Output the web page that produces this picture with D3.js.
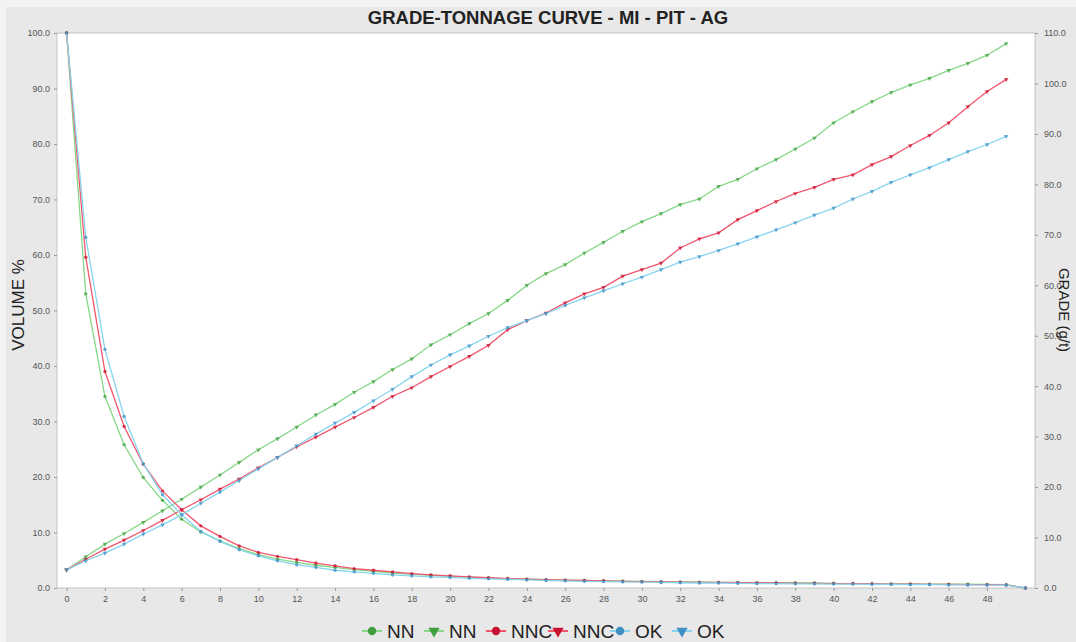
<!DOCTYPE html>
<html>
<head>
<meta charset="utf-8">
<script src="https://cdn.jsdelivr.net/npm/d3@7"></script>
<style>
    body { margin: 0; background: #f3f3f3; }
    svg { display: block; font-family: "Liberation Sans", Arial, sans-serif; }
</style>
</head>
<body>
<div id="chart"></div>
<script>
// ___________________________Data_______________________________
const cutoffs = d3.range(0, 51);
const volumeTicks = d3.range(0, 101, 10);
const gradeTicks = d3.range(0, 111, 10);
const xTicks = d3.range(0, 49, 2);

const volumeNN = [100, 53, 34.5, 25.8, 19.9, 15.8, 12.4, 10.1, 8.5, 7.1, 6.0, 5.2, 4.6, 4.1, 3.7, 3.3, 3.0, 2.7, 2.5, 2.3,
    2.1, 1.95, 1.8, 1.7, 1.6, 1.5, 1.4, 1.35, 1.3, 1.25, 1.2, 1.15, 1.1, 1.05, 1.0, 1.0, 0.95, 0.95, 0.9, 0.9,
    0.85, 0.8, 0.8, 0.75, 0.75, 0.7, 0.7, 0.7, 0.65, 0.6, 0.0];
const volumeNNC = [100, 59.6, 39, 29.1, 22.3, 17.5, 14.1, 11.2, 9.3, 7.6, 6.4, 5.7, 5.1, 4.5, 4.0, 3.5, 3.2, 2.9, 2.6, 2.35,
    2.2, 2.0, 1.85, 1.7, 1.6, 1.5, 1.4, 1.35, 1.3, 1.2, 1.15, 1.1, 1.05, 1.0, 1.0, 0.95, 0.9, 0.9, 0.85, 0.85,
    0.8, 0.8, 0.75, 0.7, 0.7, 0.65, 0.65, 0.6, 0.6, 0.55, 0.0];
const volumeOK = [100, 63.2, 43, 30.9, 22.4, 16.8, 13.2, 10.2, 8.4, 6.9, 5.8, 4.9, 4.2, 3.7, 3.2, 2.9, 2.65, 2.35, 2.2, 2.0,
    1.9, 1.75, 1.65, 1.55, 1.45, 1.35, 1.3, 1.2, 1.15, 1.1, 1.05, 1.0, 0.95, 0.9, 0.9, 0.85, 0.8, 0.8, 0.75, 0.75,
    0.7, 0.7, 0.65, 0.65, 0.6, 0.6, 0.55, 0.55, 0.5, 0.5, 0.0];

const gradeNN = [3.6, 6.2, 8.7, 10.8, 13.0, 15.3, 17.6, 20.0, 22.4, 24.9, 27.4, 29.6, 31.9, 34.3, 36.4, 38.8, 40.9, 43.3, 45.4, 48.2,
    50.2, 52.4, 54.4, 57.0, 60.0, 62.3, 64.1, 66.4, 68.5, 70.7, 72.6, 74.2, 76.0, 77.1, 79.6, 81.0, 83.1, 84.9, 87.0, 89.2,
    92.2, 94.4, 96.4, 98.2, 99.7, 101.0, 102.6, 104.0, 105.6, 107.9];
const gradeNNC = [3.6, 5.7, 7.7, 9.5, 11.4, 13.4, 15.5, 17.5, 19.6, 21.6, 23.8, 25.9, 28.0, 29.9, 31.9, 33.8, 35.8, 38.0, 39.7, 41.9,
    43.9, 45.9, 48.1, 51.2, 53.0, 54.5, 56.5, 58.3, 59.6, 61.8, 63.1, 64.4, 67.4, 69.2, 70.4, 73.0, 74.8, 76.6, 78.2, 79.4,
    81.0, 81.9, 83.9, 85.5, 87.7, 89.7, 92.2, 95.4, 98.4, 100.8];
const gradeOK = [3.6, 5.4, 6.9, 8.7, 10.7, 12.5, 14.5, 16.8, 19.0, 21.3, 23.6, 25.9, 28.2, 30.5, 32.7, 34.8, 37.1, 39.4, 41.9, 44.2,
    46.2, 48.0, 49.9, 51.6, 53.0, 54.4, 56.0, 57.5, 58.9, 60.3, 61.6, 63.1, 64.6, 65.7, 66.9, 68.2, 69.6, 71.0, 72.4, 73.9,
    75.3, 77.1, 78.6, 80.4, 81.9, 83.3, 84.9, 86.5, 87.9, 89.5];

const seriesNames = ["NN", "NN", "NNC", "NNC", "OK", "OK"];

// ___________________________Chart_______________________________
const width = 1076;
const height = 642;
const margin = { top: 33, right: 41, bottom: 54, left: 57 };

const series = [
    { name: seriesNames[0], values: volumeNN, axis: "left", symbol: d3.symbolCircle, line: "#86d886", dot: "#3f9f3f" },
    { name: seriesNames[1], values: gradeNN, axis: "right", symbol: d3.symbolTriangle, line: "#86d886", dot: "#3f9f3f" },
    { name: seriesNames[2], values: volumeNNC, axis: "left", symbol: d3.symbolCircle, line: "#f2566e", dot: "#c8102e" },
    { name: seriesNames[3], values: gradeNNC, axis: "right", symbol: d3.symbolTriangle, line: "#f2566e", dot: "#c8102e" },
    { name: seriesNames[4], values: volumeOK, axis: "left", symbol: d3.symbolCircle, line: "#86d4f0", dot: "#3d8fc4" },
    { name: seriesNames[5], values: gradeOK, axis: "right", symbol: d3.symbolTriangle, line: "#86d4f0", dot: "#3d8fc4" }
];

const svg = d3.select("#chart")
    .append("svg")
    .attr("width", width)
    .attr("height", height);

// outer panel
svg.append("rect")
    .attr("x", 6).attr("y", 7)
    .attr("width", width - 6).attr("height", height - 7)
    .attr("fill", "#e8e8e8");

const xScale = d3.scaleLinear()
    .domain([-0.5, 50.5])
    .range([margin.left, width - margin.right]);

const yLeft = d3.scaleLinear()
    .domain([0, 100])
    .range([height - margin.bottom, margin.top]);

const yRight = d3.scaleLinear()
    .domain([0, 110])
    .range([height - margin.bottom, margin.top]);

// plot area
svg.append("rect")
    .attr("x", margin.left)
    .attr("y", margin.top)
    .attr("width", width - margin.left - margin.right)
    .attr("height", height - margin.top - margin.bottom)
    .attr("fill", "#ffffff")
    .attr("stroke", "#c4c4c4");

// Title
svg.append("text")
    .attr("x", 548)
    .attr("y", 24)
    .attr("text-anchor", "middle")
    .style("font-size", "18.5px")
    .style("font-weight", "bold")
    .style("fill", "#222")
    .text("GRADE-TONNAGE CURVE - MI - PIT - AG");

// Axes
function styleAxis(g) {
    g.select(".domain").remove();
    g.selectAll(".tick line").attr("stroke", "#999");
    g.selectAll(".tick text").style("font-size", "9px").style("fill", "#555");
}

svg.append("g")
    .attr("transform", `translate(0,${height - margin.bottom})`)
    .call(d3.axisBottom(xScale).tickValues(xTicks).tickSize(3).tickPadding(5))
    .call(styleAxis);

svg.append("g")
    .attr("transform", `translate(${margin.left},0)`)
    .call(d3.axisLeft(yLeft).tickValues(volumeTicks).tickFormat(d3.format(".1f")).tickSize(3).tickPadding(4))
    .call(styleAxis);

svg.append("g")
    .attr("transform", `translate(${width - margin.right},0)`)
    .call(d3.axisRight(yRight).tickValues(gradeTicks).tickFormat(d3.format(".1f")).tickSize(3).tickPadding(6))
    .call(styleAxis);

svg.append("text")
    .attr("transform", "rotate(-90)")
    .attr("x", -305)
    .attr("y", 24)
    .attr("text-anchor", "middle")
    .style("font-size", "17px")
    .style("fill", "#222")
    .text("VOLUME %");

svg.append("text")
    .attr("transform", "rotate(90)")
    .attr("x", 310)
    .attr("y", -1059)
    .attr("text-anchor", "middle")
    .style("font-size", "15px")
    .style("fill", "#222")
    .text("GRADE (g/t)");

// Lines and points
series.forEach(function (s) {
    const yScale = s.axis === "left" ? yLeft : yRight;
    const pts = s.values.map((v, i) => ({ x: cutoffs[i], y: v }));

    const line = d3.line()
        .x(d => xScale(d.x))
        .y(d => yScale(d.y));

    svg.append("path")
        .datum(pts)
        .attr("fill", "none")
        .attr("stroke", s.line)
        .attr("stroke-width", 1.3)
        .attr("d", line);

    const sym = d3.symbol().type(s.symbol).size(9);
    svg.selectAll(null)
        .data(pts)
        .enter()
        .append("path")
        .attr("d", sym)
        .attr("transform", d => `translate(${xScale(d.x)},${yScale(d.y)})` + (s.symbol === d3.symbolTriangle ? " rotate(180)" : ""))
        .attr("fill", s.dot)
        .attr("opacity", 0.75);
});

// Legend
const legendX = d3.scaleBand()
    .domain(d3.range(series.length))
    .range([362, 734]);

const legend = svg.append("g");
series.forEach(function (s, i) {
    const x0 = legendX(i);
    const g = legend.append("g").attr("transform", `translate(${x0},631)`);
    g.append("line")
        .attr("x1", 0).attr("x2", 20)
        .attr("stroke", s.line)
        .attr("stroke-width", 2);
    g.append("path")
        .attr("d", d3.symbol().type(s.symbol).size(55))
        .attr("transform", `translate(10,0)` + (s.symbol === d3.symbolTriangle ? " rotate(180)" : ""))
        .attr("fill", s.dot);
    g.append("text")
        .attr("x", 25)
        .attr("y", 7)
        .style("font-size", "19px")
        .style("fill", "#222")
        .text(s.name);
});
</script>
</body>
</html>
